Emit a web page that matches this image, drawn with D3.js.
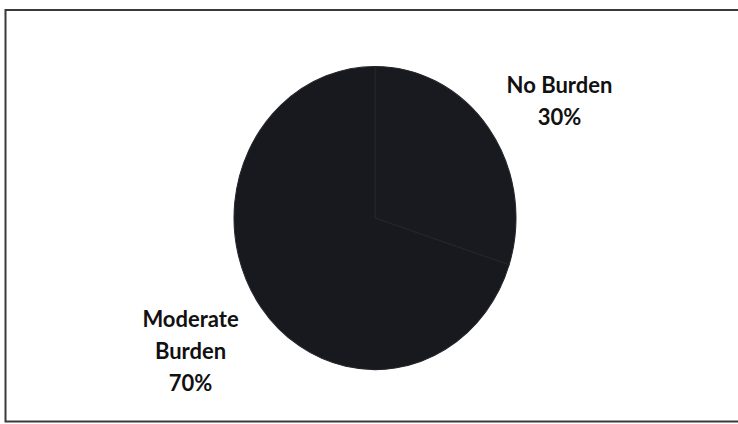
<!DOCTYPE html>
<html>
<head>
<meta charset="utf-8">
<script src="https://cdn.jsdelivr.net/npm/d3@7"></script>
<style>
  body { margin: 0; background: #fff; }
  svg { display: block; }
</style>
</head>
<body>
<div id="wrapper"></div>
<script>
// slice data, clockwise from 12 o'clock
const categories = ["No Burden", "Moderate Burden"];
const values = [30, 70];
const labelLines = [["No Burden", "30%"], ["Moderate", "Burden", "70%"]];
const sliceColors = ["#191a1f", "#18191e"];

const dimension = {
    width: 738,
    height: 424,
    cx: 375,
    cy: 218,
    radius: 141,
    squash: 1.075   // the scanned pie is a bit taller than wide
};

const svg = d3.select("#wrapper")
    .append("svg")
    .attr("width", dimension.width)
    .attr("height", dimension.height);

// chart area border
svg.append("rect")
    .attr("x", 5.5)
    .attr("y", 10)
    .attr("width", 745)
    .attr("height", 411.5)
    .attr("fill", "none")
    .attr("stroke", "#3a3a3a")
    .attr("stroke-width", 2);

const pie = d3.pie().sort(null).value(d => d.value);
const arcs = pie(categories.map((c, i) => ({ name: c, value: values[i], lines: labelLines[i] })));

const arcGen = d3.arc().innerRadius(0).outerRadius(dimension.radius);

const pieG = svg.append("g")
    .attr("transform", `translate(${dimension.cx},${dimension.cy}) scale(1,${dimension.squash})`);

pieG.selectAll("path")
    .data(arcs)
    .enter()
    .append("path")
    .attr("d", arcGen)
    .attr("fill", (d, i) => sliceColors[i])
    .attr("stroke", "#24252b")
    .attr("stroke-width", 1);

// labels sit outside the pie along each slice's mid angle
const labelRx = 228, labelRy = 212, lineH = 32, fontSize = 22;

const labels = svg.append("g")
    .selectAll("text")
    .data(arcs)
    .enter()
    .append("text")
    .attr("text-anchor", "middle")
    .attr("font-family", "Lato, 'Open Sans', sans-serif")
    .attr("font-weight", "bold")
    .attr("font-size", fontSize + "px")
    .attr("fill", "#111");

labels.each(function(d) {
    const a = (d.startAngle + d.endAngle) / 2;
    const x = dimension.cx + labelRx * Math.sin(a);
    const yMid = dimension.cy - labelRy * Math.cos(a) + 8;
    const n = d.data.lines.length;
    const firstBase = yMid - (n - 1) * lineH / 2 + fontSize * 0.36;
    d3.select(this).selectAll("tspan")
        .data(d.data.lines)
        .enter()
        .append("tspan")
        .attr("x", x)
        .attr("y", (t, j) => firstBase + j * lineH)
        .text(t => t);
});
</script>
</body>
</html>
